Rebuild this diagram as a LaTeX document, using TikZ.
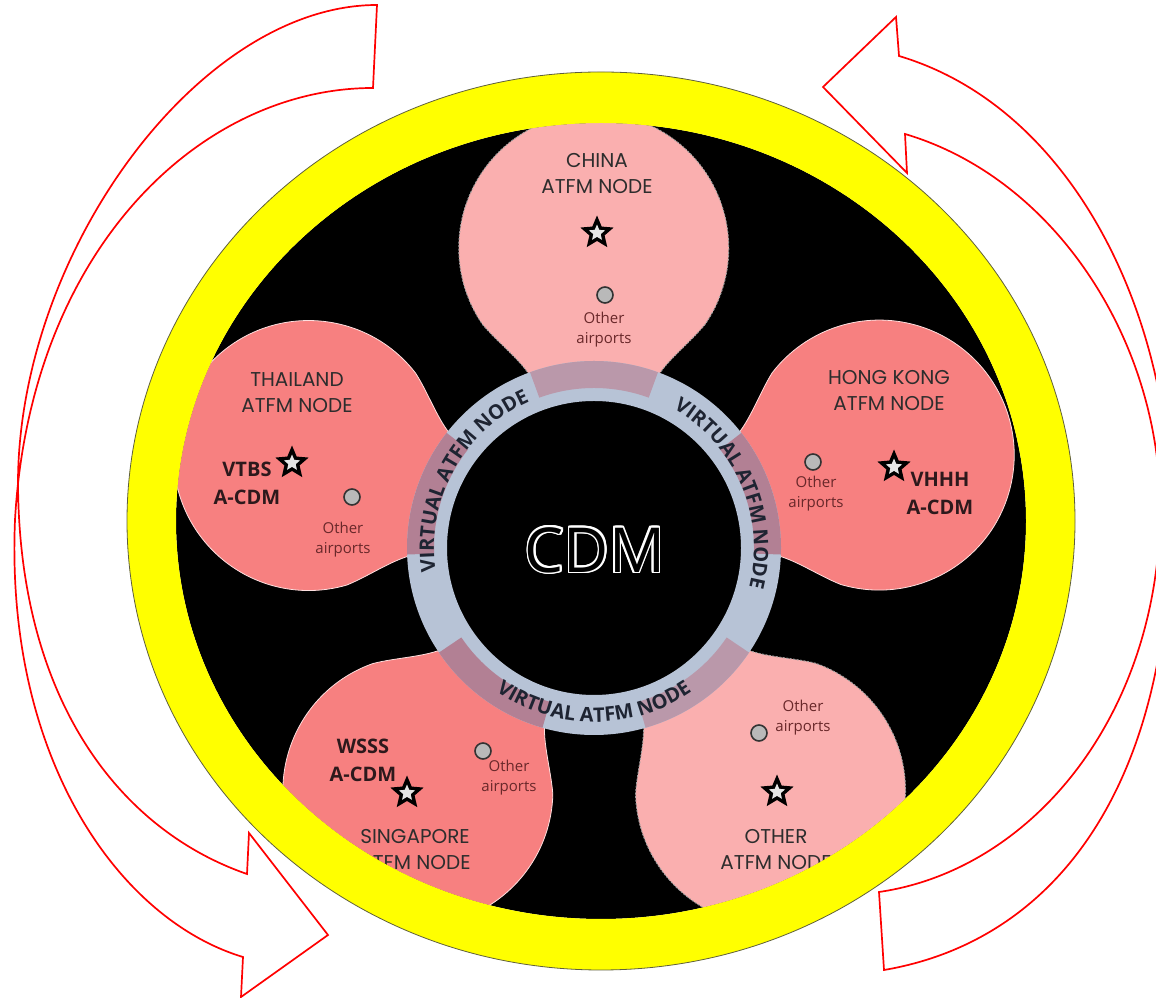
\documentclass[tikz,border=0pt]{standalone}
\usepackage{fontspec}
\usetikzlibrary{shapes.geometric,decorations.text}
\newfontfamily\titlefont{Poppins}
\newfontfamily\labelfont{Open Sans}
\definecolor{petalpink}{RGB}{250,175,175}
\definecolor{petalsalmon}{RGB}{247,128,128}
\definecolor{ringblue}{RGB}{183,195,214}
\definecolor{mauvelight}{RGB}{186,152,170}
\definecolor{mauvedark}{RGB}{178,128,148}
\definecolor{ringdark}{RGB}{30,36,50}
\definecolor{titlegray}{RGB}{45,45,45}
\definecolor{labeldark}{RGB}{45,25,28}
\definecolor{otherbrown}{RGB}{105,40,42}
\definecolor{rimolive}{RGB}{95,95,60}
\definecolor{rimyellow}{RGB}{255,255,0}
% one petal: angle from the ring centre, style
\newcommand{\petal}[2]{%
  \begin{scope}[shift={(594,450)},rotate=#1]
    \path[#2] (-20:175) .. controls (184,-68) and (203.5,-94.6) .. (223.5,-111)
      arc [start angle=-124.5, end angle=124.5, radius=135]
      .. controls (203.5,94.6) and (184,68) .. (20:175) -- cycle;
  \end{scope}}
% darker band where a petal meets the ring
\newcommand{\overlap}[2]{%
  \begin{scope}[shift={(594,450)},rotate=#1]
    \fill[#2] (-20:187) arc [start angle=-20, end angle=20, radius=187]
      -- (20:160) arc [start angle=20, end angle=-20, radius=160] -- cycle;
  \end{scope}}
\begin{document}
\begin{tikzpicture}[x=1pt,y=1pt,
  pinkpetal/.style={fill=petalpink, draw=gray!75, line width=1pt, dash pattern=on 2pt off 1.5pt},
  salmonpetal/.style={fill=petalsalmon, draw=white!75!petalsalmon, line width=0.8pt},
  nodetitle/.style={align=center, text=titlegray, font=\titlefont\fontsize{20}{26}\selectfont},
  icaolbl/.style={align=center, text=labeldark, font=\labelfont\bfseries\fontsize{20}{28}\selectfont},
  otherap/.style={align=center, text=otherbrown, font=\labelfont\fontsize{15}{20}\selectfont},
  apstar/.style={star, star points=5, star point ratio=2.2, fill=black, inner sep=0pt, minimum size=35},
  apstarin/.style={star, star points=5, star point ratio=2.2, fill=white!80!gray, inner sep=0pt, minimum size=17},
  apt/.style={circle, fill=gray!55, draw=black!80, line width=1.6pt, minimum size=16, inner sep=0pt},
  cdmword/.style={font=\labelfont\fontsize{62}{62}\selectfont, inner sep=0pt},
  virtlabel/.style={decorate, decoration={text along path, text align=center,
    text={|\labelfont\bfseries\fontsize{20}{20}\selectfont\color{ringdark}|VIRTUAL ATFM NODE}}},
  arrowline/.style={draw=red, line width=1.7pt, line join=miter}]
  \useasboundingbox (0,0) rectangle (1156,998);
  \clip (0,0) rectangle (1156,998);

  % Background
  \fill[black] (601,477) ellipse [x radius=425, y radius=398];

  % Petals
  \begin{scope}
    \clip (601,477) ellipse [x radius=425, y radius=398];
    \petal{90}{pinkpetal}
    \petal{-54}{pinkpetal}
    \petal{162}{salmonpetal}
    \petal{18}{salmonpetal}
    \petal{-126}{salmonpetal}
  \end{scope}

  % Virtual node ring
  \fill[ringblue, even odd rule] (594,450) circle [radius=187] (594,450) circle [radius=147];
  \overlap{90}{mauvelight}
  \overlap{-54}{mauvelight}
  \overlap{162}{mauvedark}
  \overlap{18}{mauvedark}
  \overlap{-126}{mauvedark}
  \path[virtlabel] ([shift={(200:160)}]594,450) arc [start angle=200, end angle=102, radius=160];
  \path[virtlabel] ([shift={(72:160)}]594,450) arc [start angle=72, end angle=-26, radius=160];
  \path[virtlabel] ([shift={(222:174)}]594,450) arc [start angle=222, end angle=318, radius=174];

  % Centre
  \foreach \a [count=\i] in {0,22.5,...,337.5}
    \node[cdmword, text=white] (cdmhalo\i) at ([shift={(\a:1.8)}]595,448) {CDM};
  \node[cdmword, text=black] (cdm) at (595,448) {CDM};

  % China
  \node[nodetitle] (CN) at (597,824) {CHINA\\ATFM NODE};
  \node[apstar] (CNstar) at (597,765) {};
  \node[apstarin] (CNstarin) at (CNstar) {};
  \node[apt] (CNapt) at (605,703) {};
  \node[otherap] (CNother) at (604,668) {Other\\airports};

  % Thailand
  \node[nodetitle] (TH) at (297,605) {THAILAND\\ATFM NODE};
  \node[icaolbl] (THcode) at (247,515) {VTBS\\A-CDM};
  \node[apstar] (THstar) at (292,535) {};
  \node[apstarin] (THstarin) at (THstar) {};
  \node[apt] (THapt) at (352,501) {};
  \node[otherap] (THother) at (343,458) {Other\\airports};

  % Hong Kong
  \node[nodetitle] (HK) at (889,607) {HONG KONG\\ATFM NODE};
  \node[apt] (HKapt) at (813,536) {};
  \node[otherap] (HKother) at (816,504) {Other\\airports};
  \node[apstar] (HKstar) at (894,531) {};
  \node[apstarin] (HKstarin) at (HKstar) {};
  \node[icaolbl] (HKcode) at (940,505) {VHHH\\A-CDM};

  % Singapore
  \node[icaolbl] (SGcode) at (363,238) {WSSS\\A-CDM};
  \node[apstar] (SGstar) at (407,205) {};
  \node[apstarin] (SGstarin) at (SGstar) {};
  \node[apt] (SGapt) at (483,247) {};
  \node[otherap] (SGother) at (509,220) {Other\\airports};
  \node[nodetitle] (SG) at (415,148) {SINGAPORE\\ATFM NODE};

  % Other
  \node[otherap] (OTother) at (803,280) {Other\\airports};
  \node[apt] (OTapt) at (759,265) {};
  \node[apstar] (OTstar) at (777,206) {};
  \node[apstarin] (OTstarin) at (OTstar) {};
  \node[nodetitle] (OT) at (776,148) {OTHER\\ATFM NODE};

  % Rim
  \fill[rimyellow, even odd rule] (601,477) ellipse [x radius=474, y radius=449]
    (601,477) ellipse [x radius=425, y radius=398];
  \draw[rimolive, line width=0.8pt] (601,477) ellipse [x radius=474, y radius=449];

  % Cycle arrows
  \draw[arrowline] (377,993) .. controls (200,993) and (20,748) .. (18,518)
    .. controls (18,298) and (120,168) .. (247,124) -- (249,165) -- (328,63)
    -- (241,1) -- (243,41) .. controls (120,78) and (5,238) .. (15,478)
    .. controls (30,748) and (200,910) .. (373,910) -- cycle;
  \draw[arrowline] (905,864) -- (907,825) -- (823,911) -- (896,981) -- (899,942)
    .. controls (1080,888) and (1175,668) .. (1170,478)
    .. controls (1170,218) and (1060,58) .. (884,28) -- (879,106)
    .. controls (1030,128) and (1155,278) .. (1160,478)
    .. controls (1165,648) and (1060,818) .. (905,864) -- cycle;
\end{tikzpicture}
\end{document}
